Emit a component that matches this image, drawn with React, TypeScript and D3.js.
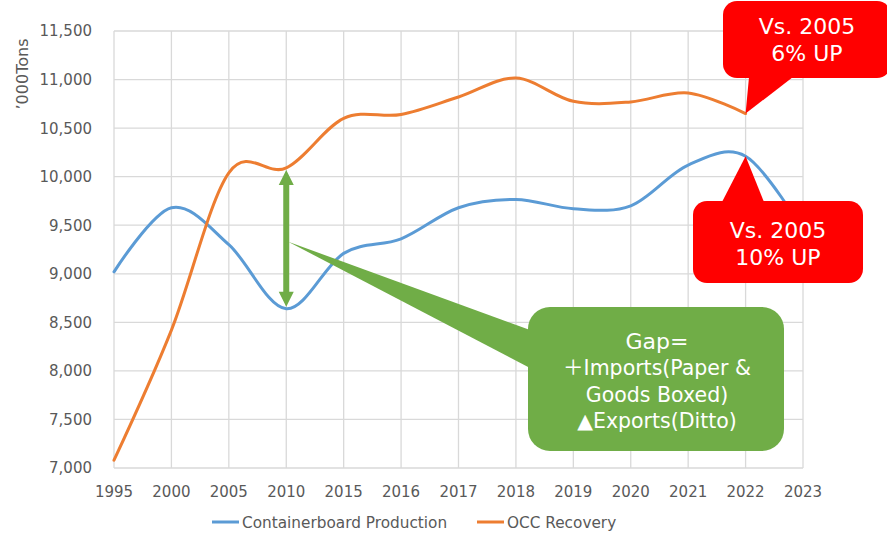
import * as d3 from "d3";

const width = 887;
const height = 534;

const categories = ["1995", "2000", "2005", "2010", "2015", "2016", "2017", "2018", "2019", "2020", "2021", "2022", "2023"];
// containerboard production, '000 tons
const production = [9020, 9680, 9300, 8640, 9210, 9360, 9680, 9765, 9670, 9700, 10120, 10210, 9450];
// OCC recovery, '000 tons (no 2023 value)
const recovery = [7080, 8420, 10040, 10090, 10600, 10640, 10820, 11015, 10776, 10770, 10862, 10650];
const yTicks = [7000, 7500, 8000, 8500, 9000, 9500, 10000, 10500, 11000, 11500];

const gapLines = ["Gap=", "＋Imports(Paper &", "Goods Boxed)", "▲Exports(Ditto)"];
const upperNote = ["Vs. 2005", "6% UP"];
const lowerNote = ["Vs. 2005", "10% UP"];

const font = "'DejaVu Sans', Verdana, sans-serif";
const textColor = "#595959";
const gridColor = "#d9d9d9";
const blue = "#5b9bd5";
const orange = "#ed7d31";
const green = "#70ad47";
const red = "#ff0000";

const plot = { left: 114, right: 803, top: 31, bottom: 468 };

const App = () => {
  const xScale = d3.scalePoint<string>().domain(categories).range([plot.left, plot.right]);
  const yScale = d3.scaleLinear().domain([7000, 11500]).range([plot.bottom, plot.top]);

  const line = d3
    .line<[string, number]>()
    .x((d) => xScale(d[0]) as number)
    .y((d) => yScale(d[1]))
    .curve(d3.curveCardinal.tension(0));

  const prodPath = line(production.map((v, i) => [categories[i], v] as [string, number])) || "";
  const recPath = line(recovery.map((v, i) => [categories[i], v] as [string, number])) || "";

  // double arrow at 2010 between the two series
  const ax = xScale("2010") as number;
  const aTop = yScale(recovery[3]) + 2;
  const aBot = yScale(production[3]) - 2;
  const hw = 7.5, hl = 15, sw = 3;
  const arrow = [
    [ax, aTop], [ax + hw, aTop + hl], [ax + sw, aTop + hl],
    [ax + sw, aBot - hl], [ax + hw, aBot - hl], [ax, aBot],
    [ax - hw, aBot - hl], [ax - sw, aBot - hl], [ax - sw, aTop + hl],
    [ax - hw, aTop + hl],
  ];

  // callout boxes
  const gapBox = { x: 528, y: 307, w: 256, h: 144 };
  const gapTip: [number, number] = [ax + 2, yScale(9330)];

  const x2022 = xScale("2022") as number;
  const upBox = { x: 723, y: 1, w: 168, h: 77 };
  const upTip: [number, number] = [x2022, yScale(recovery[11])];
  const lowBox = { x: 693, y: 201, w: 170, h: 82 };
  const lowTip: [number, number] = [x2022, yScale(production[11])];

  return (
    <svg width={width} height={height} style={{ position: "absolute", left: 0, top: 0, background: "#fff" }}>
      <g className="grid">
        {yTicks.map((t) => (
          <line key={t} x1={plot.left} x2={plot.right} y1={yScale(t)} y2={yScale(t)} stroke={gridColor} strokeWidth={1.3} />
        ))}
        {categories.map((c) => (
          <line key={c} x1={xScale(c)} x2={xScale(c)} y1={plot.top} y2={plot.bottom} stroke={gridColor} strokeWidth={1.3} />
        ))}
      </g>

      <g className="y-axis" fontFamily={font} fontSize={15} fill={textColor}>
        {yTicks.map((t) => (
          <text key={t} x={92} y={yScale(t)} dy="0.36em" textAnchor="end">
            {d3.format(",")(t)}
          </text>
        ))}
        <text transform="translate(28,74) rotate(-90)" textAnchor="middle" fontSize={16}>
          ’000Tons
        </text>
      </g>

      <g className="x-axis" fontFamily={font} fontSize={15} fill={textColor}>
        {categories.map((c) => (
          <text key={c} x={xScale(c)} y={497} textAnchor="middle">
            {c}
          </text>
        ))}
      </g>

      <path d={prodPath} fill="none" stroke={blue} strokeWidth={3} strokeLinecap="round" />
      <path d={recPath} fill="none" stroke={orange} strokeWidth={3} strokeLinecap="round" />

      <polygon points={arrow.map((p) => p.join(",")).join(" ")} fill={green} />

      <g className="gap-callout">
        <path
          d={`M${gapTip[0]},${gapTip[1]} L${gapBox.x + 2},${330} L${gapBox.x + 2},${368} Z`}
          fill={green}
        />
        <rect x={gapBox.x} y={gapBox.y} width={gapBox.w} height={gapBox.h} rx={22} fill={green} />
        <text fontFamily={`${font}, 'Noto Sans CJK JP'`} fill="#fff" textAnchor="middle">
          {gapLines.map((l, i) => (
            <tspan key={i} x={gapBox.x + gapBox.w / 2 + 1} y={341 + i * 26.6} dy="0.36em" fontSize={i === 0 ? 22 : 20.5}>
              {l}
            </tspan>
          ))}
        </text>
      </g>

      <g className="red-callouts" fontFamily={font} fontSize={22} fill="#fff" textAnchor="middle">
        <path d={`M${upTip[0]},${upTip[1]} L749,${upBox.y + upBox.h - 1} L793,${upBox.y + upBox.h - 1} Z`} fill={red} />
        <rect x={upBox.x} y={upBox.y} width={upBox.w} height={upBox.h} rx={14} fill={red} />
        {upperNote.map((l, i) => (
          <text key={i} x={upBox.x + upBox.w / 2} y={26 + i * 26.6} dy="0.36em">
            {l}
          </text>
        ))}
        <path d={`M${lowTip[0]},${lowTip[1]} L722,${lowBox.y + 1} L764,${lowBox.y + 1} Z`} fill={red} />
        <rect x={lowBox.x} y={lowBox.y} width={lowBox.w} height={lowBox.h} rx={14} fill={red} />
        {lowerNote.map((l, i) => (
          <text key={i} x={lowBox.x + lowBox.w / 2} y={230 + i * 26.6} dy="0.36em">
            {l}
          </text>
        ))}
      </g>

      <g className="legend" fontFamily={font} fontSize={15.3} fill={textColor}>
        <line x1={212} x2={239} y1={522} y2={522} stroke={blue} strokeWidth={3} />
        <text x={242} y={522} dy="0.36em">Containerboard Production</text>
        <line x1={477} x2={504} y1={522} y2={522} stroke={orange} strokeWidth={3} />
        <text x={507} y={522} dy="0.36em">OCC Recovery</text>
      </g>
    </svg>
  );
};

export default App;
